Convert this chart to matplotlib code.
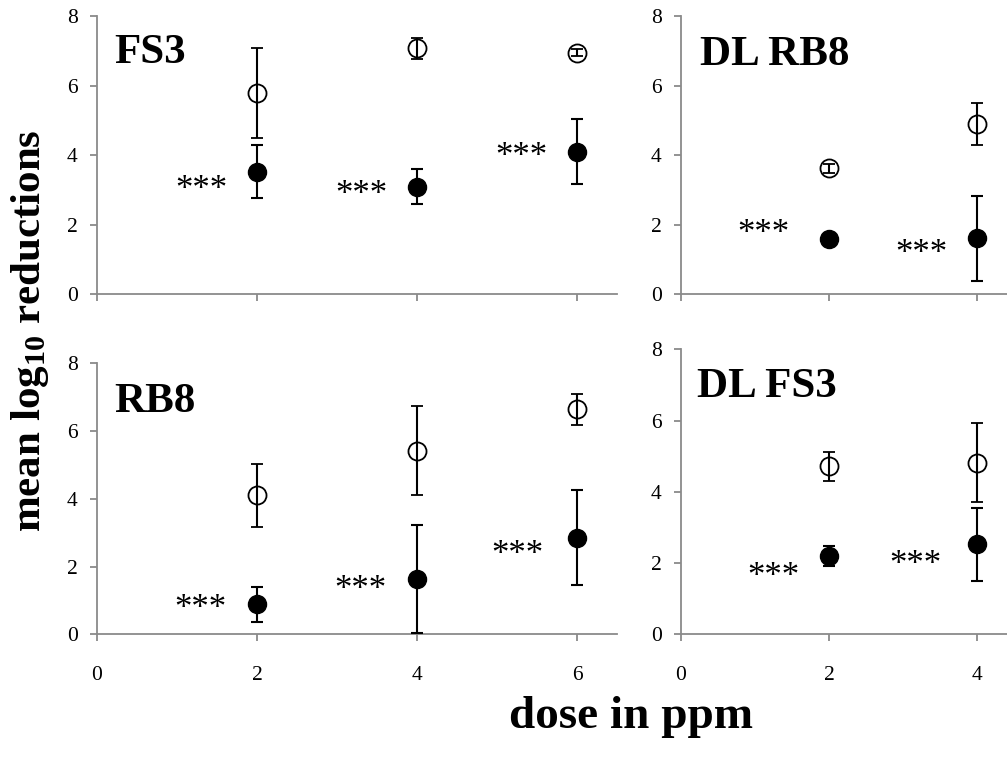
import matplotlib
matplotlib.use("Agg")
import matplotlib.pyplot as plt

plt.rcParams['font.family'] = ['Liberation Serif', 'DejaVu Serif']
plt.rcParams['mathtext.fontset'] = 'custom'
plt.rcParams['mathtext.rm'] = 'Liberation Serif:bold'
plt.rcParams['mathtext.it'] = 'Liberation Serif:bold'
plt.rcParams['mathtext.bf'] = 'Liberation Serif:bold'

# ---------------- data ----------------
doses_3 = [2, 4, 6]
doses_2 = [2, 4]

fs3_open = [5.78, 7.07, 6.95]
fs3_open_err = [1.30, 0.31, 0.10]
fs3_filled = [3.52, 3.09, 4.10]
fs3_filled_err = [0.76, 0.50, 0.93]
fs3_star_x = [1.31, 3.30, 5.31]
fs3_star_y = [3.20, 3.05, 4.15]

rb8_open = [4.11, 5.42, 6.64]
rb8_open_err = [0.93, 1.31, 0.45]
rb8_filled = [0.89, 1.63, 2.85]
rb8_filled_err = [0.52, 1.60, 1.40]
rb8_star_x = [1.29, 3.29, 5.26]
rb8_star_y = [0.96, 1.51, 2.56]

dlrb8_open = [3.62, 4.89]
dlrb8_open_err = [0.12, 0.60]
dlrb8_filled = [1.58, 1.61]
dlrb8_filled_err = [0.05, 1.22]
dlrb8_star_x = [1.11, 3.25]
dlrb8_star_y = [1.94, 1.37]

dlfs3_open = [4.72, 4.82]
dlfs3_open_err = [0.41, 1.11]
dlfs3_filled = [2.20, 2.53]
dlfs3_filled_err = [0.27, 1.02]
dlfs3_star_x = [1.25, 3.16]
dlfs3_star_y = [1.81, 2.13]

titles = ["FS3", "RB8", "DL RB8", "DL FS3"]
yticks = [0, 2, 4, 6, 8]
xticks_left = [0, 2, 4, 6]
xticks_right = [0, 2, 4]
star_text = "***"

# ---------------- figure ----------------
W, H = 1007, 759
fig = plt.figure(figsize=(W / 100, H / 100), dpi=100)

def frac(x0, y_top, x1, y_bot):
    return [x0 / W, 1 - y_bot / H, (x1 - x0) / W, (y_bot - y_top) / H]

ax_tl = fig.add_axes(frac(97, 16, 617, 294.3))
ax_bl = fig.add_axes(frac(97, 363.3, 617, 634.3))
ax_tr = fig.add_axes(frac(681, 16, 1007, 294.3))
ax_br = fig.add_axes(frac(681, 349.3, 1007, 634.3))

spine_col = '#8a8a8a'

def style(ax, xmax, xticks, show_xlabels):
    ax.set_xlim(0, xmax)
    ax.set_ylim(0, 8)
    for s in ['top', 'right']:
        ax.spines[s].set_visible(False)
    for s in ['left', 'bottom']:
        ax.spines[s].set_color(spine_col)
        ax.spines[s].set_linewidth(1.3)
    ax.spines['bottom'].set_zorder(0.5)
    ax.set_yticks(yticks)
    ax.set_xticks(xticks)
    ax.tick_params(axis='both', direction='out', length=5, width=1.3,
                   color=spine_col, labelsize=15.5, labelcolor='black')
    ax.tick_params(axis='y', pad=9)
    ax.tick_params(axis='x', pad=18)
    if not show_xlabels:
        ax.set_xticklabels([])
    ax.patch.set_visible(False)

def draw(ax, x, yo, eo, yf, ef, sx, sy, title, tx, ty):
    ax.errorbar(x, yf, yerr=ef, fmt='o', color='black', mfc='black', mec='black',
                ms=13, ecolor='black', elinewidth=1.5, capsize=4.5, capthick=1.5,
                clip_on=False, zorder=3)
    ax.errorbar(x, yo, yerr=eo, fmt='o', color='black', mfc='none', mec='black',
                mew=1.3, ms=13, ecolor='black', elinewidth=1.5, capsize=4.5,
                capthick=1.5, clip_on=False, zorder=3)
    for xs, ys in zip(sx, sy):
        ax.annotate(star_text, (xs, ys), xytext=(0, -11.5), textcoords='offset points',
                    ha='center', va='baseline', fontsize=25, color='black')
    ax.text(tx, ty, title, fontsize=31, fontweight='bold', ha='left', va='baseline')

style(ax_tl, 6.5, xticks_left, False)
style(ax_bl, 6.5, xticks_left, True)
style(ax_tr, 4.405, xticks_right, False)
style(ax_br, 4.405, xticks_right, True)

draw(ax_tl, doses_3, fs3_open, fs3_open_err, fs3_filled, fs3_filled_err,
     fs3_star_x, fs3_star_y, titles[0], 0.21, 6.65)
draw(ax_bl, doses_3, rb8_open, rb8_open_err, rb8_filled, rb8_filled_err,
     rb8_star_x, rb8_star_y, titles[1], 0.21, 6.57)
draw(ax_tr, doses_2, dlrb8_open, dlrb8_open_err, dlrb8_filled, dlrb8_filled_err,
     dlrb8_star_x, dlrb8_star_y, titles[2], 0.26, 6.59)
draw(ax_br, doses_2, dlfs3_open, dlfs3_open_err, dlfs3_filled, dlfs3_filled_err,
     dlfs3_star_x, dlfs3_star_y, titles[3], 0.21, 6.67)

fig.text(30 / W, 1 - 331 / H, r"mean log$_{10}$ reductions", rotation=90,
         fontsize=31, fontweight='bold', ha='center', va='center')
fig.text(631 / W, 1 - 728 / H, "dose in ppm", fontsize=34, fontweight='bold',
         ha='center', va='baseline')

fig.savefig("out.png", dpi=100)
